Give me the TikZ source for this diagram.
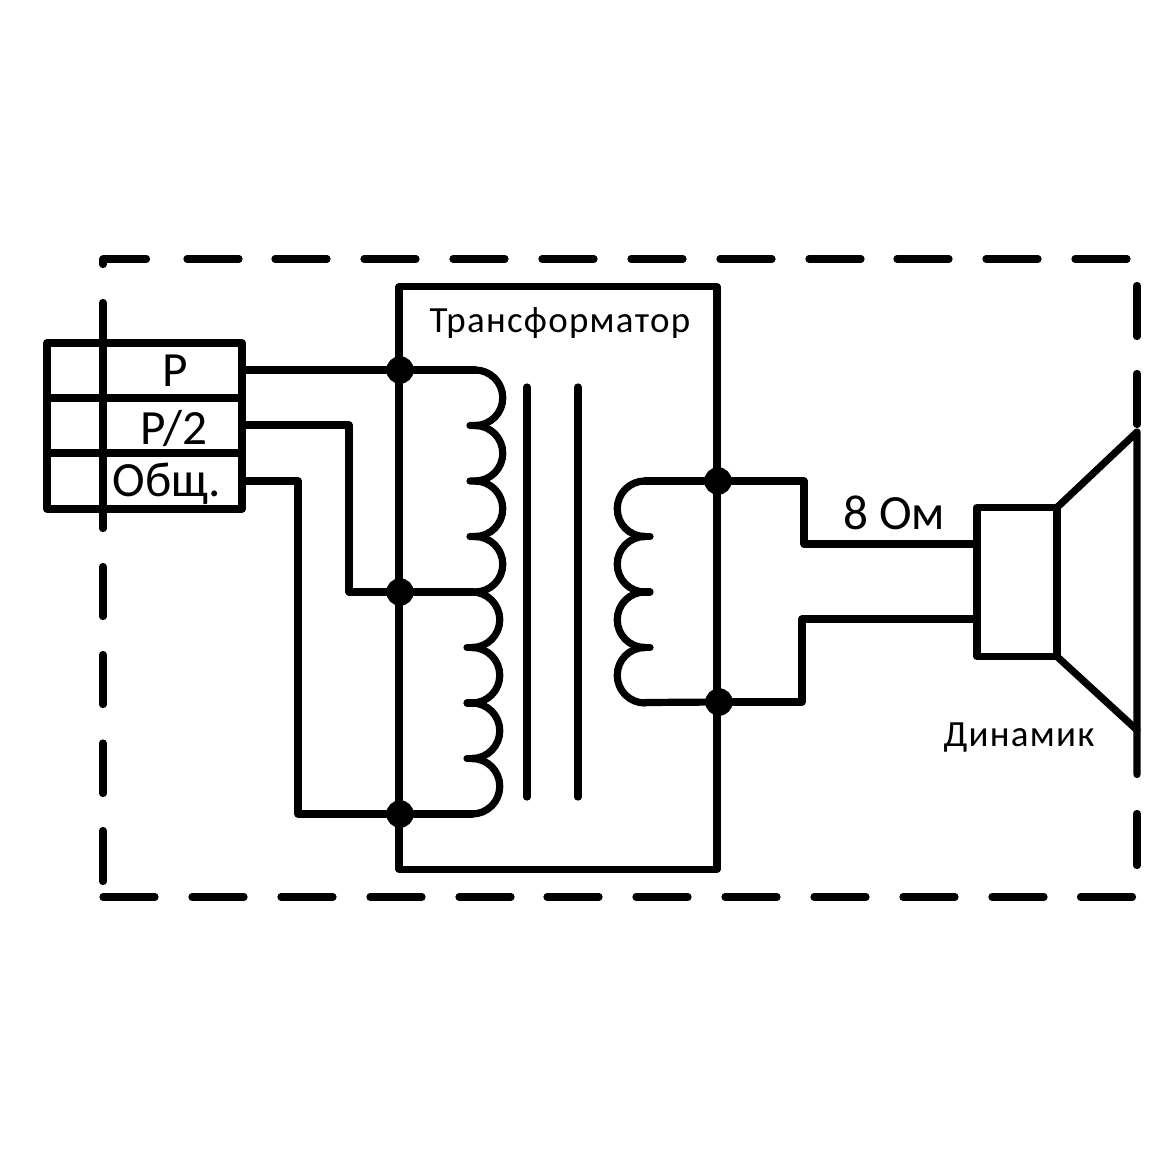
\documentclass[tikz,border=0pt]{standalone}
\usepackage{fontspec}
\setmainfont{Carlito}
\tikzset{
	wire/.style={line width=2.05pt,line join=round,line cap=round},
	cell/.style={inner sep=0pt,font=\fontsize{14}{14}\selectfont},
	lbl/.style={inner sep=0pt,font=\fontsize{10.5}{10.5}\selectfont\addfontfeature{LetterSpace=3.5}},
	dot/.style={circle,fill=black,inner sep=0pt,outer sep=0pt,minimum size=0.275cm},
	box/.style={draw,wire,inner sep=0pt,outer sep=0pt}
}
\begin{document}
\begin{tikzpicture}[x=0.01cm,y=-0.01cm,wire]
	\useasboundingbox (0,0) rectangle (1175,1175);
	% frame
	\draw (103,264.5) -- (103,259) -- (146.5,259);
	\foreach \a in {187,275,364,453,542,631,720,809,897,986,1075}
		\draw (\a,259) -- ++(52,0);
	\foreach \a/\b in {302.5/528.5,566.5/616.5,654.5/704.5,743/793.5,830.5/881.5}
		\draw (103,\a) -- (103,\b);
	\foreach \a in {103,192,281,370,459,547,636,725,814,903,992,1080.5}
		\draw (\a,897) -- ++(52,0);
	\foreach \a/\b in {285.5/336.5,373.5/424.5,813.5/865.5}
		\draw (1137,\a) -- (1137,\b);
	% terminal block
	\node[box,minimum width=1.95cm,minimum height=1.66cm] (term) at (144.5,426) {};
	\coordinate (r1) at (0,398);
	\coordinate (r2) at (0,453);
	\draw (term.west |- r1) -- (term.east |- r1);
	\draw (term.west |- r2) -- (term.east |- r2);
	\node[cell] (p) at (175,371) {P};
	\node[cell] (p2) at (174,428) {P/2};
	\node[cell] (com) at (167,484) {Общ.};
	% transformer
	\node[box,minimum width=3.18cm,minimum height=5.82cm] (trans) at (558,578) {};
	\node[lbl] (title) at (560,323) {Трансформатор};
	\node[dot] (d1) at (400,370) {};
	\node[dot] (d2) at (400,592) {};
	\node[dot] (d3) at (400,814) {};
	\node[dot] (d4) at (718,481) {};
	\node[dot] (d5) at (719,702) {};
	\coordinate (t1) at (243,370);
	\coordinate (t2) at (243,425);
	\coordinate (t3) at (243,481);
	\coordinate (j1) at (349,592);
	\coordinate (j2) at (298,814);
	\draw (t1) -- (d1);
	\draw (t2) -| (j1) -- (d2);
	\draw (t3) -| (j2) -- (d3);
	% windings
	\draw (d1) -- (475,370);
	\foreach \a in {370,425.5,481,536.5}
		\draw (475,\a) arc (-90:90:27.75) -- (470,\a+55.5);
	\draw (d2) -- (472,592);
	\foreach \a in {592,647.5,703,758.5}
		\draw (472,\a) arc (-90:90:27.75);
	\foreach \a in {647.5,703,758.5}
		\draw (467,\a) -- (472,\a);
	\draw (d3) -- (472,814);
	\foreach \a in {481,536.5,592,647.5}
		\draw (645,\a) arc (-90:-270:27.75);
	\foreach \a in {536.5,592,647.5}
		\draw (650,\a) -- (645,\a);
	\draw (d4) -- (645,481);
	\draw (d5) -- (645,702.5);
	\draw (527,387) -- (527,797);
	\draw (578,387) -- (578,797);
	% speaker
	\node[box,minimum width=0.8cm,minimum height=1.49cm] (spk) at (1017,582) {};
	\draw (spk.north east) -- (1137,432) -- (1137,774.5);
	\draw (spk.south east) -- (1137,730);
	\coordinate (j3) at (804,544);
	\coordinate (j4) at (802,619);
	\draw (d4) -| (j3) -- ([xshift=-0.03cm]spk.west |- j3);
	\draw (d5) -| (j4) -- ([xshift=-0.03cm]spk.west |- j4);
	\node[cell] (ohm) at (894,513) {8 Ом};
	\node[lbl] (name) at (1019,738) {Динамик};
\end{tikzpicture}
\end{document}
